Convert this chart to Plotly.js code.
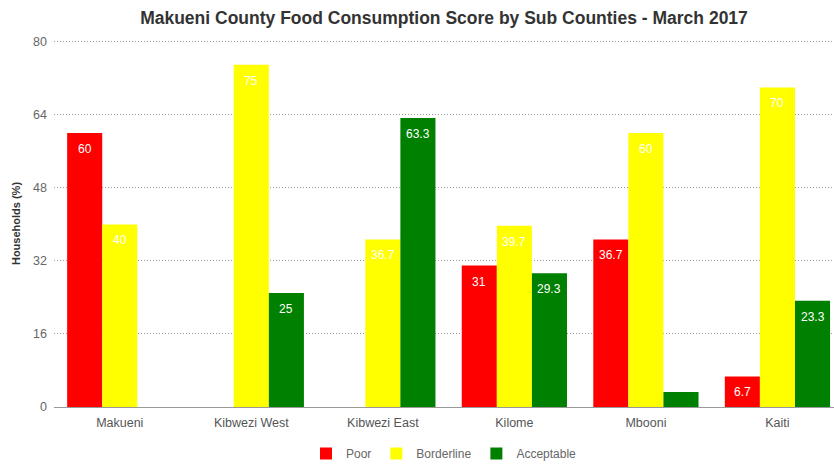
<!DOCTYPE html>
<html>
<head>
<meta charset="utf-8">
<script src="https://cdn.plot.ly/plotly-3.0.1.min.js"></script>
<style>html,body{margin:0;padding:0;background:#fff;}#chart{width:834px;height:468px;}</style>
</head>
<body>
<div id="chart"></div>
<script>
const categories = ["Makueni", "Kibwezi West", "Kibwezi East", "Kilome", "Mbooni", "Kaiti"];
const poor = [60, 0, 0, 31, 36.7, 6.7];
const borderline = [40, 75, 36.7, 39.7, 60, 70];
const acceptable = [0, 25, 63.3, 29.3, 3.3, 23.3];
const yTicks = [0, 16, 32, 48, 64, 80];

const seriesList = [
  {name: 'Poor', vals: poor, color: '#ff0000'},
  {name: 'Borderline', vals: borderline, color: '#ffff00'},
  {name: 'Acceptable', vals: acceptable, color: '#008000'}
];

const bargap = 0.2;
const barW = (1 - bargap) / seriesList.length;

const data = seriesList.map(s => ({
  type: 'bar', name: s.name, x: categories, y: s.vals,
  marker: {color: s.color}, hoverinfo: 'x+y'
}));

const annotations = [];
seriesList.forEach((s, i) => {
  s.vals.forEach((v, j) => {
    if (v > 5) {
      annotations.push({
        x: j + (i - (seriesList.length - 1) / 2) * barW, y: v,
        xref: 'x', yref: 'y', text: String(v), showarrow: false,
        yanchor: 'middle', yshift: -16,
        font: {color: '#ffffff', size: 12, family: 'Liberation Sans, Arial, sans-serif'}
      });
    }
  });
});

const layout = {
  width: 834, height: 468,
  margin: {l: 54, r: 0, t: 40, b: 60},
  paper_bgcolor: '#ffffff', plot_bgcolor: '#ffffff',
  font: {family: 'Liberation Sans, Arial, sans-serif', color: '#555555', size: 12},
  title: {
    text: '<b>Makueni County Food Consumption Score by Sub Counties - March 2017</b>',
    font: {size: 17.5, color: '#333333'},
    x: 0.5, xref: 'paper', xanchor: 'center', y: 0.962, yref: 'container', yanchor: 'middle'
  },
  barmode: 'group', bargap: bargap, bargroupgap: 0,
  annotations: annotations,
  xaxis: {
    type: 'category', range: [-0.5, 5.43],
    showgrid: false, showline: false, ticks: '', zeroline: false,
    ticklabelstandoff: 6,
    tickfont: {size: 12.5, color: '#555555'}, fixedrange: true
  },
  yaxis: {
    range: [0, 80.4], tickvals: yTicks, ticktext: yTicks.map(String),
    showgrid: true, gridcolor: '#999999', griddash: '1px,2px', gridwidth: 1,
    zeroline: true, zerolinecolor: '#999999', zerolinewidth: 1,
    showline: false, ticks: '', ticklabelstandoff: 6,
    tickfont: {size: 12.5, color: '#666666'},
    title: {text: '<b>Households (%)</b>', font: {size: 11, color: '#333333'}, standoff: 10}
  },
  legend: {
    orientation: 'h', x: 0.5, xanchor: 'center', y: -0.128, yanchor: 'middle',
    font: {size: 12, color: '#666666'}, itemwidth: 30, traceorder: 'normal'
  },
  showlegend: true
};

Plotly.newPlot('chart', data, layout, {displayModeBar: false, staticPlot: true});
</script>
</body>
</html>
